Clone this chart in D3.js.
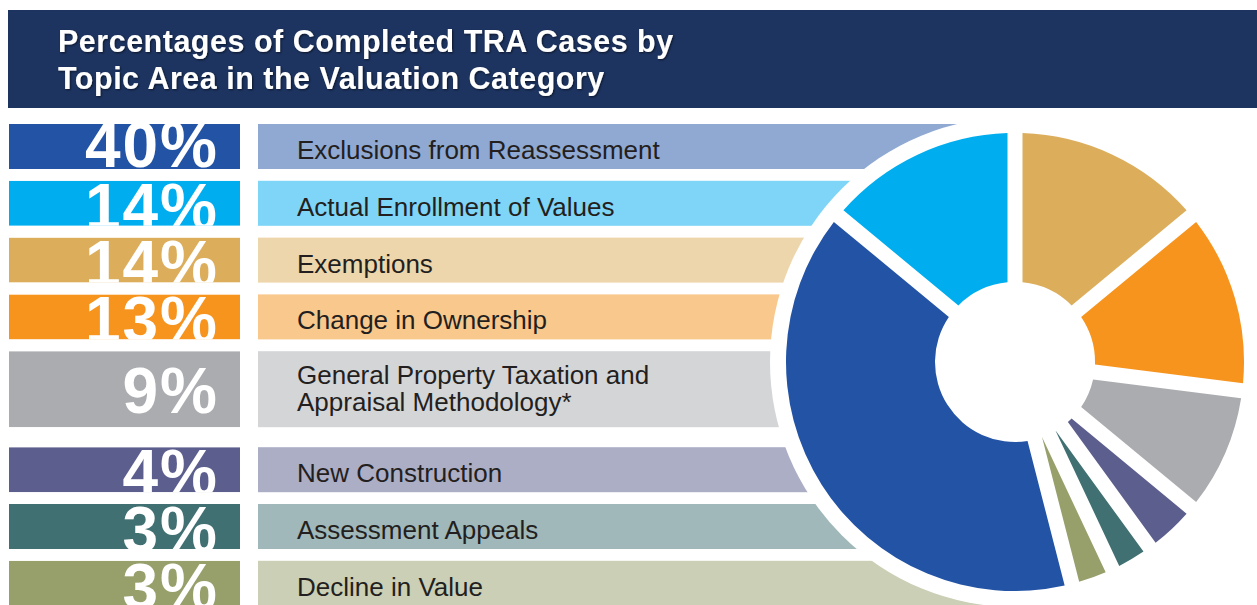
<!DOCTYPE html>
<html>
<head>
<meta charset="utf-8">
<script src="https://cdn.jsdelivr.net/npm/d3@7"></script>
<style>
  html, body { margin: 0; padding: 0; background: #fff; }
  svg { display: block; }
</style>
</head>
<body>
<div id="chart"></div>
<script>
// Valuation category - topic areas

// data
const titleLines = ['Percentages of Completed TRA Cases by', 'Topic Area in the Valuation Category'];
const categories = [
    'Exclusions from Reassessment',
    'Actual Enrollment of Values',
    'Exemptions',
    'Change in Ownership',
    'General Property Taxation and\nAppraisal Methodology*',
    'New Construction',
    'Assessment Appeals',
    'Decline in Value'
];
const percents = [40, 14, 14, 13, 9, 4, 3, 3];
// order of the slices, clockwise from 12 o'clock
const pieOrder = [2, 3, 4, 5, 6, 7, 0, 1];

// colours
const darkColors = ['#2353a5', '#00aeef', '#dcae5c', '#f7941e', '#abacaf', '#5c5f8d', '#407072', '#97a06b'];
const lightColors = ['#8fa9d2', '#7fd5f7', '#edd6ac', '#f9c88c', '#d4d5d7', '#acaec6', '#a0b8b9', '#cacfb5'];

const width = 1257, height = 605;
const svg = d3.select('#chart').append('svg')
    .attr('width', width)
    .attr('height', height);

// title banner
svg.append('rect')
    .attr('x', 8).attr('y', 10)
    .attr('width', width - 8).attr('height', 98)
    .attr('fill', '#1d3461');

const defs = svg.append('defs');
const shadow = defs.append('filter').attr('id', 'shadow')
    .attr('x', '-5%').attr('y', '-20%').attr('width', '110%').attr('height', '140%');
shadow.append('feDropShadow')
    .attr('dx', 1).attr('dy', 1).attr('stdDeviation', 0.8)
    .attr('flood-color', '#000').attr('flood-opacity', 0.6);

svg.append('g').selectAll('text')
    .data(titleLines)
    .enter().append('text')
    .attr('x', 58)
    .attr('y', (d, i) => 52 + i * 37)
    .attr('fill', '#fff')
    .attr('filter', 'url(#shadow)')
    .style('font-family', '"Liberation Sans", Arial, sans-serif')
    .style('font-weight', 'bold')
    .style('font-size', '30.5px')
    .style('letter-spacing', '0.5px')
    .text(d => d);

// row layout
const rowTop = 124, rowH = 45, tallH = 76, rowGap = 11.8, tallGap = 20;
const rows = [];
let y = rowTop;
categories.forEach((c, i) => {
    const lines = c.split('\n');
    const h = lines.length > 1 ? tallH : rowH;
    rows.push({ name: c, lines, pct: percents[i], i, y, h });
    y += h + (lines.length > 1 ? tallGap : rowGap);
});

const boxX = d3.scaleOrdinal().domain(['pct', 'label']).range([9, 258]);
const pctW = 231;

// pie geometry
const cx = 1015, cy = 362, outerR = 229, innerR = 80, gapW = 15;

// label bars (drawn long, cut by the white ring round the pie)
svg.append('g').selectAll('rect')
    .data(rows)
    .enter().append('rect')
    .attr('x', boxX('label'))
    .attr('y', d => d.y)
    .attr('width', cx - boxX('label'))
    .attr('height', d => d.h)
    .attr('fill', d => lightColors[d.i]);

svg.append('g').selectAll('text')
    .data(rows)
    .enter().append('text')
    .attr('x', boxX('label') + 39)
    .attr('y', d => d.y + (d.lines.length > 1 ? 33 : 35))
    .attr('fill', '#231f20')
    .style('font-family', '"Liberation Sans", Arial, sans-serif')
    .style('font-size', '26px')
    .each(function (d) {
        d3.select(this).selectAll('tspan')
            .data(d.lines)
            .enter().append('tspan')
            .attr('x', boxX('label') + 39)
            .attr('dy', (l, k) => k === 0 ? 0 : 27)
            .text(l => l);
    });

// percentage boxes with clipped big numbers
rows.forEach(d => {
    defs.append('clipPath').attr('id', 'clip' + d.i)
        .append('rect')
        .attr('x', boxX('pct')).attr('y', d.y)
        .attr('width', pctW).attr('height', d.h);
});

const pctG = svg.append('g').selectAll('g')
    .data(rows)
    .enter().append('g')
    .attr('clip-path', d => `url(#clip${d.i})`);

pctG.append('rect')
    .attr('x', boxX('pct'))
    .attr('y', d => d.y)
    .attr('width', pctW)
    .attr('height', d => d.h)
    .attr('fill', d => darkColors[d.i]);

pctG.append('text')
    .attr('x', 219)
    .attr('y', d => d.lines.length > 1 ? d.y + d.h / 2 + 24 : d.y + (d.i === 0 ? 43 : 48))
    .attr('text-anchor', 'end')
    .attr('fill', '#fff')
    .style('font-family', '"Liberation Sans", Arial, sans-serif')
    .style('font-weight', 'bold')
    .style('font-size', '64px')
    .style('letter-spacing', '2px')
    .text(d => d.pct + '%');

// donut
const pieG = svg.append('g').attr('transform', `translate(${cx},${cy})`);

pieG.append('circle')
    .attr('r', outerR + gapW + 1)
    .attr('fill', '#fff');

const pie = d3.pie()
    .sort(null)
    .value(d => d.pct);

const arc = d3.arc()
    .innerRadius(innerR)
    .outerRadius(outerR)
    .padRadius(outerR)
    .padAngle(gapW / outerR);

pieG.selectAll('path')
    .data(pie(pieOrder.map(k => rows[k])))
    .enter().append('path')
    .attr('d', arc)
    .attr('fill', d => darkColors[d.data.i]);
</script>
</body>
</html>
